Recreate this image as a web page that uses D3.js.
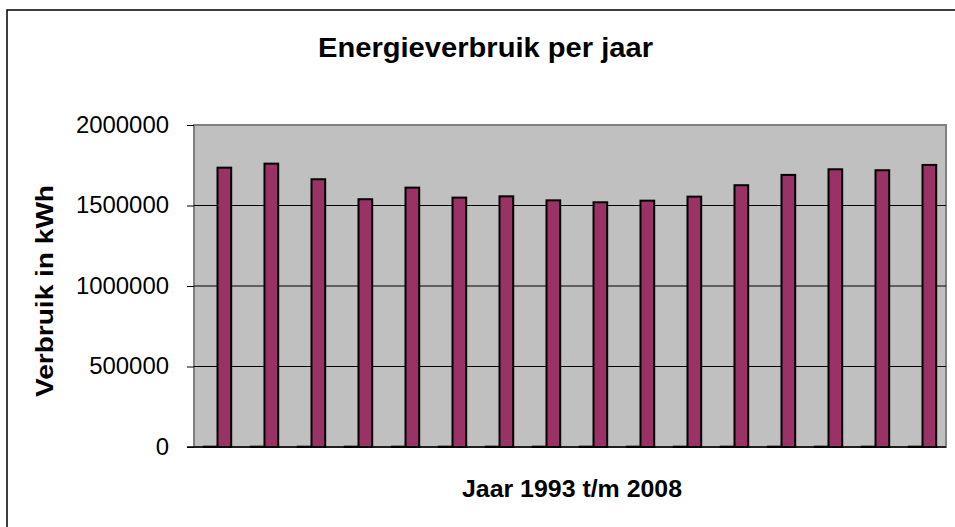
<!DOCTYPE html>
<html>
<head>
<meta charset="utf-8">
<script src="https://cdn.jsdelivr.net/npm/d3@7"></script>
<style>
  body { margin: 0; background: #fff; }
  text { font-family: "Liberation Sans", Arial, sans-serif; fill: #000; }
</style>
</head>
<body>
<div id="chart"></div>
<script>
// years are plotted as a series too (they end up as flat bars at the base)
const years = [1993, 1994, 1995, 1996, 1997, 1998, 1999, 2000,
               2001, 2002, 2003, 2004, 2005, 2006, 2007, 2008];
const verbruik = [1735000, 1760000, 1663000, 1539000, 1611000, 1549000, 1557000, 1532000,
                  1520000, 1530000, 1555000, 1626000, 1690000, 1725000, 1719000, 1752000];
const yTicks = [0, 500000, 1000000, 1500000, 2000000];
const seriesNames = ["jaar", "verbruik"];

const W = 955, H = 527;
const plot = {left: 194, top: 125, right: 946, bottom: 447};

const svg = d3.select("#chart").append("svg")
  .attr("width", W)
  .attr("height", H);

// chart border (right/bottom run off the picture)
svg.append("rect")
  .attr("x", 7).attr("y", 10)
  .attr("width", 1000).attr("height", 1000)
  .style("fill", "#fff")
  .style("stroke", "#000")
  .style("stroke-width", 1.5);

///////////////////////
// Scales
var x = d3.scaleBand()
  .domain(years)
  .range([plot.left, plot.right])
  .paddingInner(0.417)
  .paddingOuter(0.2085);

var xSub = d3.scaleBand()
  .domain(seriesNames)
  .range([0, x.bandwidth()]);

var y = d3.scaleLinear()
  .domain([0, 2000000])
  .range([plot.bottom, plot.top]);

// plot area
svg.append("rect")
  .attr("x", plot.left).attr("y", plot.top)
  .attr("width", plot.right - plot.left)
  .attr("height", plot.bottom - plot.top)
  .style("fill", "#c0c0c0")
  .style("stroke", "#808080")
  .style("stroke-width", 2);

// gridlines
svg.append("g")
  .selectAll("line")
  .data(yTicks.filter(d => d > 0 && d < 2000000))
  .enter().append("line")
    .attr("x1", plot.left).attr("x2", plot.right)
    .attr("y1", d => y(d)).attr("y2", d => y(d))
    .style("stroke", "#000")
    .style("stroke-width", 1);

///////////////////////
// Axis
var yAxis = d3.axisLeft(y)
  .tickValues(yTicks)
  .tickFormat(d3.format("d"))
  .tickSize(7)
  .tickPadding(18);

var gy = svg.append("g")
  .attr("transform", "translate(" + plot.left + ",0)")
  .call(yAxis);
gy.select(".domain").remove();
gy.selectAll(".tick line").style("stroke", "#000");
gy.selectAll(".tick text")
  .style("font-size", "23px")
  .attr("font-family", null)
  .attr("textLength", function(d) { return String(d).length * 13.3; })
  .attr("lengthAdjust", "spacingAndGlyphs");

// category axis line
svg.append("line")
  .attr("x1", plot.left - 7).attr("x2", plot.right)
  .attr("y1", y(0)).attr("y2", y(0))
  .style("stroke", "#000")
  .style("stroke-width", 1.5);

////////////////////////
// bars
var rows = years.map((yr, i) => ({year: yr, values: [
  {key: "jaar", value: yr, fill: "#9999ff"},
  {key: "verbruik", value: verbruik[i], fill: "#993366"}
]}));

var groups = svg.selectAll(".group")
  .data(rows)
  .enter().append("g")
    .attr("transform", d => "translate(" + x(d.year) + ",0)");

groups.selectAll("rect")
  .data(d => d.values)
  .enter().append("rect")
    .attr("x", d => xSub(d.key))
    .attr("y", d => y(d.value))
    .attr("width", xSub.bandwidth())
    .attr("height", d => y(0) - y(d.value))
    .style("fill", d => d.fill)
    .style("stroke", "#000")
    .style("stroke-width", 2);

////////////////////////
// titles
svg.append("text")
  .attr("x", 485.5).attr("y", 57)
  .attr("text-anchor", "middle")
  .attr("textLength", 335)
  .attr("lengthAdjust", "spacingAndGlyphs")
  .style("font-size", "27px")
  .style("font-weight", "bold")
  .text("Energieverbruik per jaar");

svg.append("text")
  .attr("x", 572).attr("y", 497)
  .attr("text-anchor", "middle")
  .attr("textLength", 220)
  .attr("lengthAdjust", "spacingAndGlyphs")
  .style("font-size", "24px")
  .style("font-weight", "bold")
  .text("Jaar 1993 t/m 2008");

svg.append("text")
  .attr("transform", "translate(53,291) rotate(-90)")
  .attr("text-anchor", "middle")
  .attr("textLength", 212)
  .attr("lengthAdjust", "spacingAndGlyphs")
  .style("font-size", "24px")
  .style("font-weight", "bold")
  .text("Verbruik in kWh");
</script>
</body>
</html>
